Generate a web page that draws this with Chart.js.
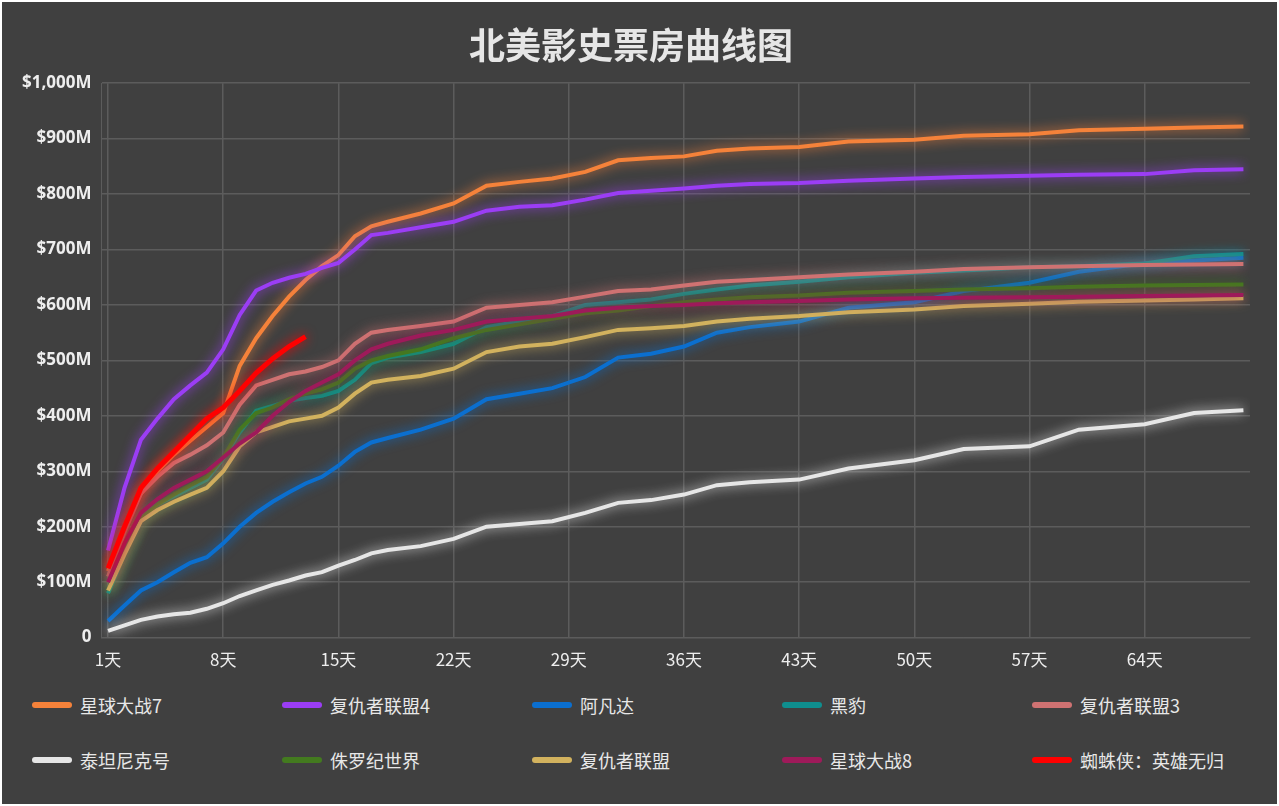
<!DOCTYPE html>
<html><head><meta charset="utf-8">
<script src="https://cdn.jsdelivr.net/npm/chart.js@4"></script>
<style>
html,body{margin:0;padding:0;background:#fff;}
#wrap{position:absolute;left:2px;top:2px;width:1275px;height:802px;background:#404040;}
#cv{position:absolute;left:0;top:0;}
#legend{position:absolute;left:30px;top:688px;width:1250px;display:grid;grid-template-columns:repeat(5,250px);row-gap:25px;font-family:"Noto Sans CJK SC",sans-serif;font-size:18px;color:#e8e8e8;}
.li{display:flex;align-items:center;height:30px;}
.sw{width:40px;height:6px;border-radius:3px;margin-right:8px;}
</style></head><body>
<div id="wrap"><canvas id="cv" width="1275" height="680"></canvas><div id="legend"></div></div>
<script>
const days=[1,2,3,4,5,6,7,8,9,10,11,12,13,14,15,16,17,18,20,22,24,26,28,30,32,34,36,38,40,43,46,50,53,57,60,64,67,70];
const names=["星球大战7","复仇者联盟4","阿凡达","黑豹","复仇者联盟3","泰坦尼克号","侏罗纪世界","复仇者联盟","星球大战8","蜘蛛侠：英雄无归"];
const colors=["#f5823a","#9b3df5","#0b6fcf","#0f8e8e","#cf7272","#e6e6e6","#437a1f","#d2b25e","#9e1a5a","#ff0000"];
const sw7=[120,200,260,300,330,355,380,405,490,540,580,615,645,670,690,724,742,750,765,783,815,822,828,840,861,865,868,878,882,885,895,898,905,908,915,918,920,922];
const av4=[157,270,357,395,430,455,478,520,582,626,640,649,656,667,676,700,726,730,740,750,770,777,780,790,802,806,810,815,818,820,824,828,831,833,835,836,843,845];
const avatar=[30,58,85,100,118,135,145,170,200,225,245,262,278,290,310,335,352,360,375,395,430,440,450,470,505,512,525,550,560,570,595,605,625,640,660,675,680,685];
const panther=[80,150,220,240,255,270,285,323,370,409,418,427,432,436,445,465,495,505,515,530,560,570,580,600,605,610,620,628,635,642,650,658,662,668,670,675,688,692];
const av3=[110,190,260,290,315,330,347,370,420,455,465,475,480,488,500,530,550,555,562,570,595,600,605,615,625,628,635,642,645,650,655,660,665,668,670,672,673,674];
const titanic=[12,22,32,38,42,45,52,62,75,85,95,103,112,118,130,140,152,158,165,178,200,205,210,225,243,248,258,275,280,285,305,320,340,345,375,385,405,410];
const jurassic=[85,150,215,240,258,275,290,325,375,405,415,430,440,448,460,485,500,508,520,540,555,565,575,585,590,598,605,610,614,617,622,625,628,630,633,635,636,637];
const avengers=[85,150,210,230,245,258,270,300,345,370,380,390,395,400,415,440,460,465,472,485,515,525,530,542,555,558,562,570,575,580,587,592,598,602,606,608,610,612];
const sw8=[100,170,225,250,270,285,300,325,350,370,400,425,445,460,475,500,520,530,545,555,570,575,580,590,595,598,600,603,605,607,610,612,613,614,615,616,617,618];
const spider=[125,200,270,305,335,365,395,415,445,477,503,525,543];
const series=[sw7,av4,avatar,panther,av3,titanic,jurassic,avengers,sw8,spider];
const yTicks=[0,100,200,300,400,500,600,700,800,900,1000];
const xTicks=[1,8,15,22,29,36,43,50,57,64];
const glow={id:'glow',beforeDatasetDraw(c,a){const ctx=c.ctx;ctx.save();ctx.shadowColor=a.meta.dataset.options.borderColor;ctx.shadowBlur=12;},afterDatasetDraw(c){c.ctx.restore();}};
const datasets=series.map((v,i)=>({label:names[i],data:v.map((y,j)=>({x:days[j],y:y})),borderColor:colors[i],backgroundColor:colors[i],borderWidth:i==9?5:4,pointRadius:0,tension:0,order:10-i}));
new Chart(document.getElementById('cv'),{type:'line',data:{datasets},plugins:[glow],
options:{responsive:false,animation:false,
layout:{padding:{left:10,right:27,top:0,bottom:0}},
plugins:{legend:{display:false},title:{display:true,text:'北美影史票房曲线图',color:'#e6e6e6',font:{family:'"Noto Sans CJK SC"',size:36,weight:'bold'},padding:{top:22,bottom:16}},tooltip:{enabled:false}},
scales:{
x:{type:'linear',min:0.6,max:70.4,afterBuildTicks:s=>{s.ticks=xTicks.map(v=>({value:v}));},
ticks:{color:'#eeeeee',padding:12,font:{family:'"Noto Sans CJK SC"',size:17},callback:v=>v+'天',maxRotation:0,autoSkip:false},
grid:{color:'#5c5c5c',lineWidth:1.5,drawTicks:false},border:{color:'#5c5c5c'}},
y:{min:0,max:1000,afterBuildTicks:s=>{s.ticks=yTicks.map(v=>({value:v}));},
ticks:{color:'#eeeeee',padding:10,font:{family:'"Open Sans"',size:17,weight:'bold'},callback:v=>v===0?'0':'$'+v.toLocaleString('en-US')+'M'},
grid:{color:'#5c5c5c',lineWidth:1.5,drawTicks:false},border:{color:'#5c5c5c'}}}}});
const lg=document.getElementById('legend');
names.forEach((n,i)=>{const d=document.createElement('div');d.className='li';d.innerHTML='<span class="sw" style="background:'+colors[i]+'"></span>'+n;lg.appendChild(d);});
</script></body></html>
